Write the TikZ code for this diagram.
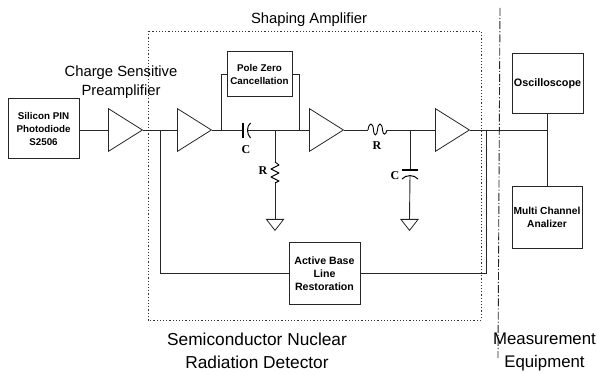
\documentclass[tikz,border=0pt]{standalone}
\usepackage{fontspec}
\setmainfont{Liberation Sans}
\newfontfamily\labelserif{Liberation Serif}
\usetikzlibrary{shapes.geometric}
\tikzset{
  wire/.style={line width=0.9pt,black!85},
  blockbox/.style={draw=black!85,line width=1pt,inner sep=0pt,align=center,fill=white},
  blockfont/.style={font=\fontsize{#1}{13}\selectfont\bfseries},
  amp/.style={draw=black!85,line width=0.8pt,isosceles triangle,isosceles triangle apex angle=64.3,minimum height=34pt,inner sep=0pt,anchor=lower side},
  gnd/.style={draw=black!85,line width=0.8pt,isosceles triangle,isosceles triangle apex angle=76,minimum height=11pt,inner sep=0pt,shape border rotate=-90,anchor=lower side},
  caption/.style={inner sep=0pt,align=center,font=\fontsize{14.8}{19}\selectfont},
  captionbig/.style={inner sep=0pt,align=center,font=\fontsize{#1}{23}\selectfont},
  seriflabel/.style={inner sep=0pt,font=\labelserif\bfseries\fontsize{12}{12}\selectfont},
  dotbox/.style={draw=black!80,line width=0.9pt,dash pattern=on 1.2pt off 2pt},
  sepline/.style={draw=black!85,line width=0.9pt,dash pattern=on 8pt off 2pt on 1.2pt off 2pt},
}
\begin{document}
\begin{tikzpicture}[x=1pt,y=-1pt]
\useasboundingbox (0,0) rectangle (597,374);
% dotted enclosure and separator
\draw[dotbox] (148,31) rectangle (481,320);
\coordinate (septop) at (500,8);
\coordinate (sepbot) at (498,358);
\draw[sepline] (septop) -- (sepbot);
% blocks
\node[blockbox,blockfont=9.8,minimum width=71pt,minimum height=60pt] (pd) at (43.5,129) {Silicon PIN\\Photodiode\\S2506};
\node[blockbox,blockfont=9.8,minimum width=65pt,minimum height=45pt] (pz) at (259.5,74.5) {Pole Zero\\Cancellation};
\node[blockbox,blockfont=10.6,minimum width=71pt,minimum height=61pt] (abl) at (324.5,273.5) {Active Base\\Line\\Restoration};
\node[blockbox,blockfont=10.8,minimum width=71pt,minimum height=60pt] (osc) at (547.5,84) {Oscilloscope};
\node[blockbox,blockfont=10.2,minimum width=70pt,minimum height=61pt] (mca) at (547,217.5) {Multi Channel\\Analizer};
% amplifiers
\node[amp] (a1) at (108,130) {};
\node[amp] (a2) at (177,130) {};
\node[amp] (a3) at (309,130) {};
\node[amp] (a4) at (435,130) {};
% junctions
\coordinate (j1) at (160,130);
\coordinate (j2) at (221,130);
\coordinate (j3) at (275,130);
\coordinate (j4) at (299,130);
\coordinate (j5) at (410,130);
\coordinate (j6) at (486,130);
\coordinate (j7) at (547.5,130);
% grounds
\node[gnd] (g1) at (275,219) {};
\node[gnd] (g2) at (409.5,219) {};
% wires
\draw[wire] (pd.east |- a1.lower side) -- (a1.lower side);
\draw[wire] (a1.apex) -- (a2.lower side);
\draw[wire] (a2.apex) -- (243,130);
\draw[wire] (248,130) -- (a3.lower side);
\draw[wire] (a3.apex) -- (368,130);
\draw[wire] (387,130) -- (a4.lower side);
\draw[wire] (a4.apex) -- (j7);
\draw[wire] (j2) |- (pz.west);
\draw[wire] (j4) |- (pz.east);
\draw[wire] (j1) |- (abl.west);
\draw[wire] (j6) |- (abl.east);
\draw[wire] (osc.south) -- (j7) -- (j7 |- mca.north);
\draw[wire] (j3) -- (275,162);
\draw[wire] (275,183) -- (g1.lower side);
\draw[wire] (j5) -- (410,170);
\draw[wire] (410,175) -- (g2.lower side);
% capacitor C series
\draw[line width=1.1pt] (243,123) -- (243,138);
\draw[line width=1pt] (250.5,123) .. controls (246.5,126) and (246.5,134) .. (250.5,138);
% capacitor shunt
\draw[line width=1.1pt] (402,170) -- (418,170);
\draw[line width=1pt] (402,179) .. controls (406,174.5) and (414,174.5) .. (418,179);
% resistor shunt
\draw[line width=0.9pt,line join=round] (275,162) -- (279,165) -- (271,169) -- (279,173) -- (271,177) -- (279,181) -- (275,183);
% resistor series
\draw[line width=0.9pt] (368,130) .. controls (369,122) and (373,122) .. (373.5,130) .. controls (374,137) and (377,136) .. (377.5,130) .. controls (378,122) and (382,122) .. (382.5,130) .. controls (383,136) and (386,135) .. (387,130);
% labels
\node[seriflabel] (lc1) at (246,150) {C};
\node[seriflabel] (lr1) at (263,171) {R};
\node[seriflabel] (lr2) at (377,146) {R};
\node[seriflabel] (lc2) at (395,176) {C};
\node[caption] (shaping) at (309,20) {Shaping Amplifier};
\node[caption] (charge) at (121,82.5) {Charge Sensitive\\Preamplifier};
\node[captionbig=17.3] (semi) at (257,350.5) {Semiconductor Nuclear\\Radiation Detector};
\node[captionbig=16.8] (meas) at (544.5,352) {Measurement\\Equipment};
\end{tikzpicture}
\end{document}
